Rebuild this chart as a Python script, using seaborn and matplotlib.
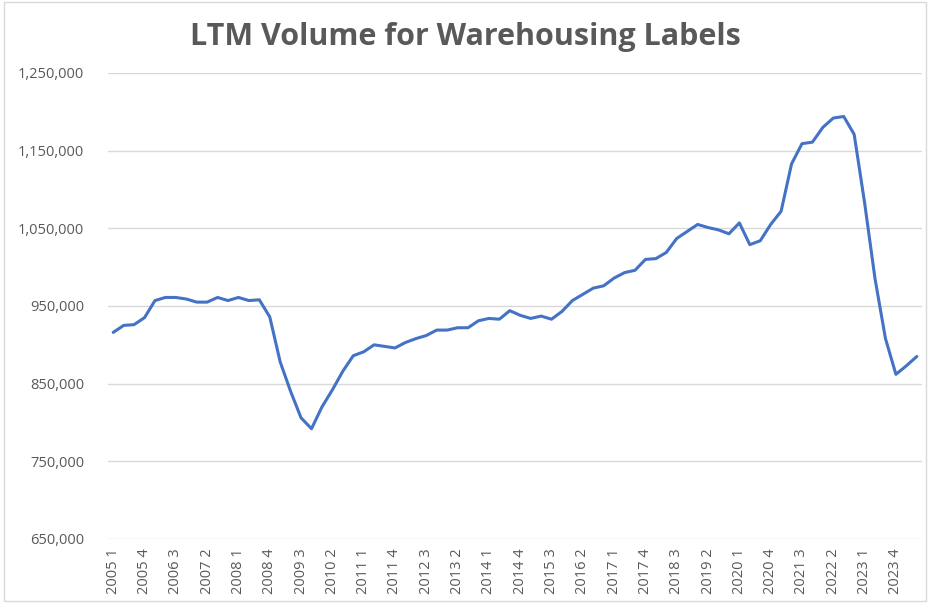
import numpy as np
import pandas as pd
import matplotlib.pyplot as plt
import seaborn as sns
from matplotlib.ticker import FuncFormatter

# quarterly LTM volume, 2005 Q1 .. 2024 Q2
years = [y for y in range(2005, 2025) for q in range(4)][:78]
quarters = [q for y in range(2005, 2025) for q in range(1, 5)][:78]
volume = [
    916000, 925000, 926000, 935000, 957000, 961000, 961000, 959000,
    955000, 955000, 961000, 957000, 961000, 957000, 958000, 936000,
    878000, 840000, 806000, 792000, 820000, 842000, 866000, 886000,
    891000, 900000, 898000, 896000, 903000, 908000, 912000, 919000,
    919000, 922000, 922000, 931000, 934000, 933000, 944000, 938000,
    934000, 937000, 933000, 943000, 957000, 965000, 973000, 976000,
    986000, 993000, 996000, 1010000, 1011000, 1019000, 1037000, 1046000,
    1055000, 1051000, 1048000, 1043000, 1057000, 1029000, 1034000, 1055000,
    1072000, 1133000, 1159000, 1161000, 1180000, 1192000, 1194000, 1171000,
    1083000, 985000, 908000, 862000, 873000, 885000,
]
labels = [f"{y} {q}" for y, q in zip(years, quarters)]
y_ticks = [650000, 750000, 850000, 950000, 1050000, 1150000, 1250000]

df = pd.DataFrame({"idx": range(len(volume)), "label": labels, "volume": volume})

sns.set_theme(style="white")
plt.rcParams["font.family"] = ["Open Sans", "DejaVu Sans"]

fig = plt.figure(figsize=(9.3, 6.03), dpi=100)
ax = fig.add_axes([108 / 930, 1 - 539 / 603, (922 - 108) / 930, (539 - 73) / 603])

sns.lineplot(data=df, x="idx", y="volume", ax=ax, color="#4472C4", linewidth=2.2)

ax.set_xlim(-0.5, len(volume) - 0.5)
ax.set_ylim(y_ticks[0], y_ticks[-1])
ax.set_yticks(y_ticks)
ax.yaxis.set_major_formatter(FuncFormatter(lambda v, p: f"{int(v):,}"))
tick_pos = list(range(0, len(volume), 3))
ax.set_xticks(tick_pos)
ax.set_xticklabels([labels[i] for i in tick_pos], rotation=90)
ax.grid(axis="y", color="#d9d9d9", linewidth=1)
ax.grid(axis="x", visible=False)
for s in ax.spines.values():
    s.set_visible(False)
ax.tick_params(axis="both", length=0, labelsize=10.5, labelcolor="#595959")
ax.tick_params(axis="y", pad=17)
ax.tick_params(axis="x", pad=7)
ax.set_xlabel("")
ax.set_ylabel("")

fig.text(0.5, 1 - 37 / 603, "LTM Volume for Warehousing Labels", ha="center", va="center",
         fontsize=22, fontweight="bold", color="#595959")

border = plt.Rectangle((0.004, 0.004), 0.992, 0.992, transform=fig.transFigure,
                       fill=False, edgecolor="#d9d9d9", linewidth=1)
fig.patches.append(border)

fig.savefig("out.png", dpi=100)
